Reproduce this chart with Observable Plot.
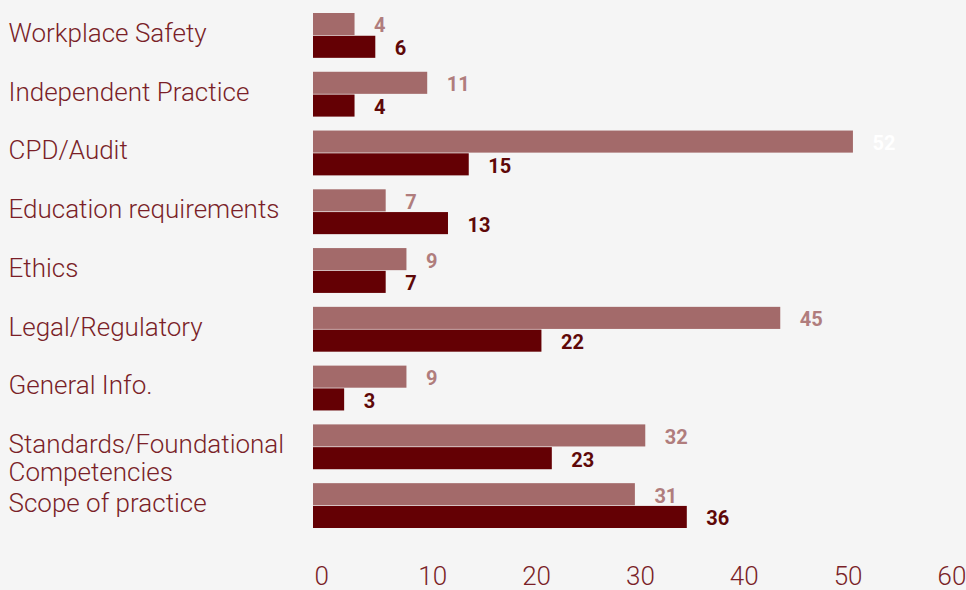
<!DOCTYPE html>
<html>
<head>
<meta charset="utf-8">
<script src="https://cdn.jsdelivr.net/npm/d3@7"></script>
<script src="https://cdn.jsdelivr.net/npm/@observablehq/plot@0.6"></script>
<style>
  html, body { margin: 0; padding: 0; background: #f5f5f5; }
  #chart svg { display: block; }
</style>
</head>
<body>
<div id="chart"></div>
<script>
// Topics, top to bottom
const categories = [
  "Workplace Safety",
  "Independent Practice",
  "CPD/Audit",
  "Education requirements",
  "Ethics",
  "Legal/Regulatory",
  "General Info.",
  "Standards/Foundational\nCompetencies",
  "Scope of practice"
];

// Two series per topic: the upper (lighter) bar and the lower (darker) bar
const seriesNames = ["Series 1", "Series 2"];
const series1Values = [4, 11, 52, 7, 9, 45, 9, 32, 31];
const series2Values = [6, 4, 15, 13, 7, 22, 3, 23, 36];

const xTicks = [0, 10, 20, 30, 40, 50, 60];

const rows = categories.flatMap((c, i) => [
  {category: c, series: seriesNames[0], value: series1Values[i]},
  {category: c, series: seriesNames[1], value: series2Values[i]}
]);

const barColors = {"Series 1": "#a36a6a", "Series 2": "#640004"};
const labelColors = {"Series 1": "#b07d7d", "Series 2": "#5e0808"};
const textColor = "#7a1f28";

const chart = Plot.plot({
  width: 966,
  height: 590,
  marginTop: 13,
  marginBottom: 62,
  marginLeft: 313,
  marginRight: 30,
  facetMarginTop: 0,
  facetMarginBottom: 0,
  style: {background: "#f5f5f5", fontFamily: "Roboto, sans-serif"},
  x: {domain: [0, 60], axis: null},
  y: {domain: seriesNames, axis: null, paddingInner: 0.03, paddingOuter: 0, round: false},
  fy: {domain: categories, axis: null, paddingInner: 0.237, paddingOuter: 0, round: false},
  marks: [
    Plot.barX(rows, {
      x: "value", y: "series", fy: "category",
      fill: d => barColors[d.series]
    }),
    Plot.text(rows, {
      x: "value", y: "series", fy: "category",
      text: d => String(d.value),
      dx: 19, dy: 1.5,
      textAnchor: "start",
      fontSize: 20,
      fontWeight: "bold",
      fill: d => d.value >= 50 ? "#ffffff" : labelColors[d.series]
    }),
    Plot.text(categories, {
      fy: d => d,
      text: d => d,
      frameAnchor: "left",
      dx: -305,
      dy: -14,
      textAnchor: "start",
      lineAnchor: "top",
      lineHeight: 1.08,
      fontSize: 26,
      fontWeight: 300,
      fill: textColor
    }),
    Plot.axisX({
      ticks: xTicks,
      label: null,
      tickSize: 0,
      tickPadding: 38,
      textAnchor: "start",
      dx: 1,
      fontSize: 26,
      fontWeight: 300,
      fill: textColor,
      tickFormat: d => String(d)
    })
  ]
});

document.getElementById("chart").appendChild(chart);
</script>
</body>
</html>
